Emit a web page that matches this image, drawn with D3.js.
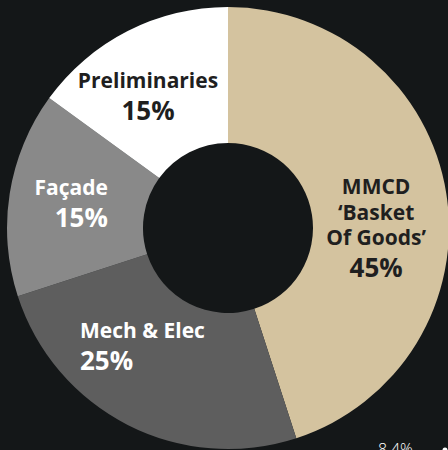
<!DOCTYPE html>
<html lang="en">
<head>
    <meta charset="UTF-8">
    <title>Cost breakdown donut</title>
    <script src="https://d3js.org/d3.v7.min.js"></script>
    <style>
        html, body {
            margin: 0;
            padding: 0;
            background-color: #141718;
            overflow: hidden;
        }

        #canvas {
            display: block;
        }

        text.name, text.pct {
            font-family: "Open Sans", sans-serif;
            font-weight: 700;
        }

        text.name { font-size: 21px; }
        text.pct { font-size: 26px; }
    </style>
</head>
<body>
<svg id="canvas" width="448" height="450"></svg>

<script>
    // slices, clockwise from 12 o'clock
    let categories = ['MMCD', 'Mech & Elec', 'Façade', 'Preliminaries']
    let labelLines = [['MMCD', '\u2018Basket', 'Of Goods\u2019'], ['Mech & Elec'], ['Façade'], ['Preliminaries']]
    let shares = [45, 25, 15, 15]
    let pctLabels = ['45%', '25%', '15%', '15%']
    let sliceColors = ['#d4c39f', '#5e5e5e', '#898989', '#ffffff']
    let textColors = ['#1f1f1f', '#ffffff', '#ffffff', '#1f1f1f']
    let footNote = '8.4%'

    // label placement relative to slice centroid
    let labelLayout = [
        {anchor: 'middle', dx: -2, dy: -10},
        {anchor: 'start', dx: -79, dy: -25},
        {anchor: 'end', dx: 30, dy: -9},
        {anchor: 'middle', dx: -11, dy: -5}
    ]

    let svg = d3.select('#canvas')
    let cx = 228, cy = 228
    let outerR = 221, innerR = 85

    let pie = d3.pie().sort(null).value(d => d.value)
    let arcs = pie(categories.map((c, i) => ({name: c, value: shares[i], i: i})))

    let arc = d3.arc().innerRadius(innerR).outerRadius(outerR)
    let labelArc = d3.arc().innerRadius(152).outerRadius(152)

    let g = svg.append('g').attr('transform', `translate(${cx},${cy})`)

    g.selectAll('path')
        .data(arcs)
        .enter()
        .append('path')
        .attr('d', arc)
        .attr('fill', d => sliceColors[d.data.i])

    let labels = g.selectAll('g.label')
        .data(arcs)
        .enter()
        .append('g')
        .attr('class', 'label')
        .attr('transform', function (d) {
            let c = labelArc.centroid(d)
            let L = labelLayout[d.data.i]
            return `translate(${c[0] + L.dx},${c[1] + L.dy})`
        })

    labels.each(function (d) {
        let sel = d3.select(this)
        let i = d.data.i
        let lines = labelLines[i]
        lines.forEach(function (t, k) {
            sel.append('text')
                .attr('class', 'name')
                .attr('y', k * 25.5)
                .attr('text-anchor', labelLayout[i].anchor)
                .attr('fill', textColors[i])
                .text(t)
        })
        sel.append('text')
            .attr('class', 'pct')
            .attr('y', (lines.length - 1) * 25.5 + 32)
            .attr('text-anchor', labelLayout[i].anchor)
            .attr('fill', textColors[i])
            .text(pctLabels[i])
    })

    // note at the bottom edge, cut off by the frame as in the source
    svg.append('text')
        .attr('x', 378)
        .attr('y', 455)
        .attr('fill', '#ffffff')
        .style('font-family', '"Open Sans", sans-serif')
        .style('font-weight', 300)
        .style('font-size', '16px')
        .text(footNote)

    svg.append('circle')
        .attr('cx', 445)
        .attr('cy', 450)
        .attr('r', 2.5)
        .attr('fill', '#ffffff')
</script>
</body>
</html>
